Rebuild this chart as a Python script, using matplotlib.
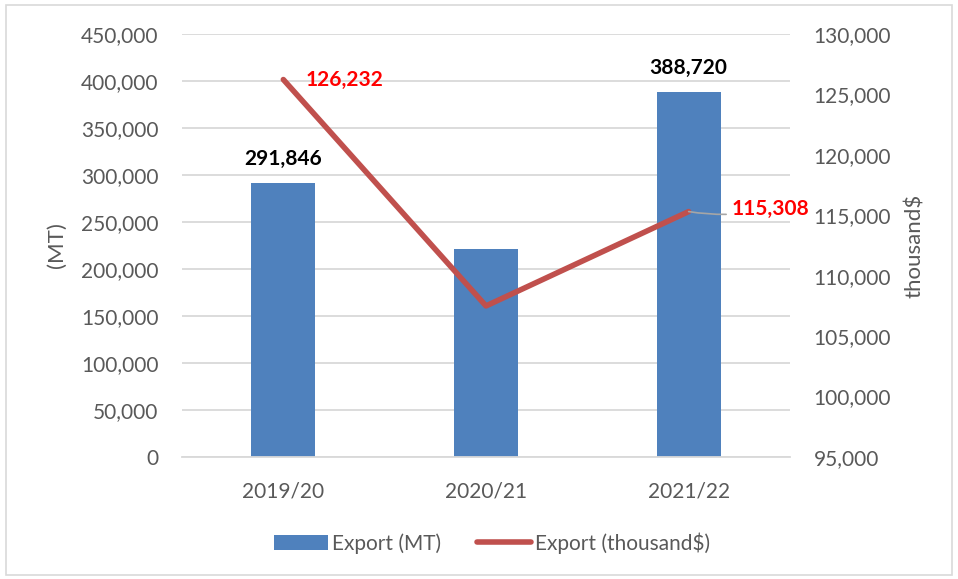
import matplotlib
matplotlib.use("Agg")
import matplotlib.pyplot as plt
from matplotlib.patches import Rectangle
from matplotlib.ticker import FuncFormatter, MultipleLocator

categories = ["2019/20", "2020/21", "2021/22"]
export_mt = [291846, 221000, 388720]
export_usd = [126232, 107500, 115308]
bar_labels = ["291,846", None, "388,720"]
line_labels = ["126,232", None, "115,308"]

plt.rcParams['font.family'] = ['Lato', 'DejaVu Sans']

W, H = 958, 579
fig = plt.figure(figsize=(W/100, H/100), dpi=100)
fig.patch.set_facecolor('white')

# chart area border
fig.add_artist(Rectangle((6/W, 1 - 575/H), 946/W, 570/H, transform=fig.transFigure,
                         fill=False, edgecolor='#d9d9d9', linewidth=1.2))

ax = fig.add_axes([182/W, 1 - 457/H, (790 - 182)/W, (457 - 34)/H])
ax2 = ax.twinx()

x = list(range(len(categories)))
bar_color = '#4f81bd'
line_color = '#c0504d'
grid_color = '#d9d9d9'
text_color = '#595959'
fs = 15

bars = ax.bar(x, export_mt, width=0.315, color=bar_color, zorder=2, label='Export (MT)')
ax.set_xlim(-0.5, 2.5)
ax.set_ylim(0, 450000)
ax.yaxis.set_major_locator(MultipleLocator(50000))
ax.yaxis.set_major_formatter(FuncFormatter(lambda v, p: f"{int(v):,}"))
ax.grid(axis='y', color=grid_color, linewidth=1.3, zorder=0)
ax.set_axisbelow(True)
ax.set_xticks(x)
ax.set_xticklabels(categories)

line, = ax2.plot(x, export_usd, color=line_color, linewidth=4, solid_capstyle='round',
                 zorder=3, label='Export (thousand$)')
ax2.set_ylim(95000, 130000)
ax2.yaxis.set_major_locator(MultipleLocator(5000))
ax2.yaxis.set_major_formatter(FuncFormatter(lambda v, p: f"{int(v):,}"))

for a in (ax, ax2):
    for s in a.spines.values():
        s.set_visible(False)
    a.tick_params(length=0, labelsize=fs, colors=text_color)
ax.spines['bottom'].set_visible(True)
ax.spines['bottom'].set_color(grid_color)
ax.spines['bottom'].set_linewidth(1.3)
ax.tick_params(axis='y', pad=17)
ax.tick_params(axis='x', pad=18)
ax2.tick_params(axis='y', pad=17)

ax.set_ylabel("(MT)", fontsize=16, color=text_color, labelpad=10)
ax2.set_ylabel("thousand$", fontsize=16, color=text_color, labelpad=10)

ax.set_zorder(1)
ax2.set_zorder(2)
ax2.patch.set_visible(False)

# bar data labels
for xi, v, lab in zip(x, export_mt, bar_labels):
    if lab:
        ax.annotate(lab, (xi, v), xytext=(0, 10), textcoords='offset points',
                    ha='center', va='bottom', fontsize=fs, fontweight='bold', color='black')

# line data labels
ax2.annotate(line_labels[0], (x[0], export_usd[0]), xytext=(16, 0), textcoords='offset points',
             ha='left', va='center', fontsize=fs, fontweight='bold', color='red')
ax2.annotate(line_labels[2], (x[2], export_usd[2]), xytext=(31, 2), textcoords='offset points',
             ha='left', va='center', fontsize=fs, fontweight='bold', color='red',
             arrowprops=dict(arrowstyle='-', color='#a6a6a6', linewidth=1.2,
                             connectionstyle='arc3,rad=-0.1', shrinkA=2, shrinkB=0))

fig.legend(handles=[bars, line], labels=['Export (MT)', 'Export (thousand$)'],
           loc='center', bbox_to_anchor=(492/W, 1 - 543/H), ncol=2, frameon=False,
           fontsize=fs, labelcolor=text_color, handlelength=2.6, handletextpad=0.2,
           columnspacing=1.7)

fig.savefig("out.png", dpi=100)
